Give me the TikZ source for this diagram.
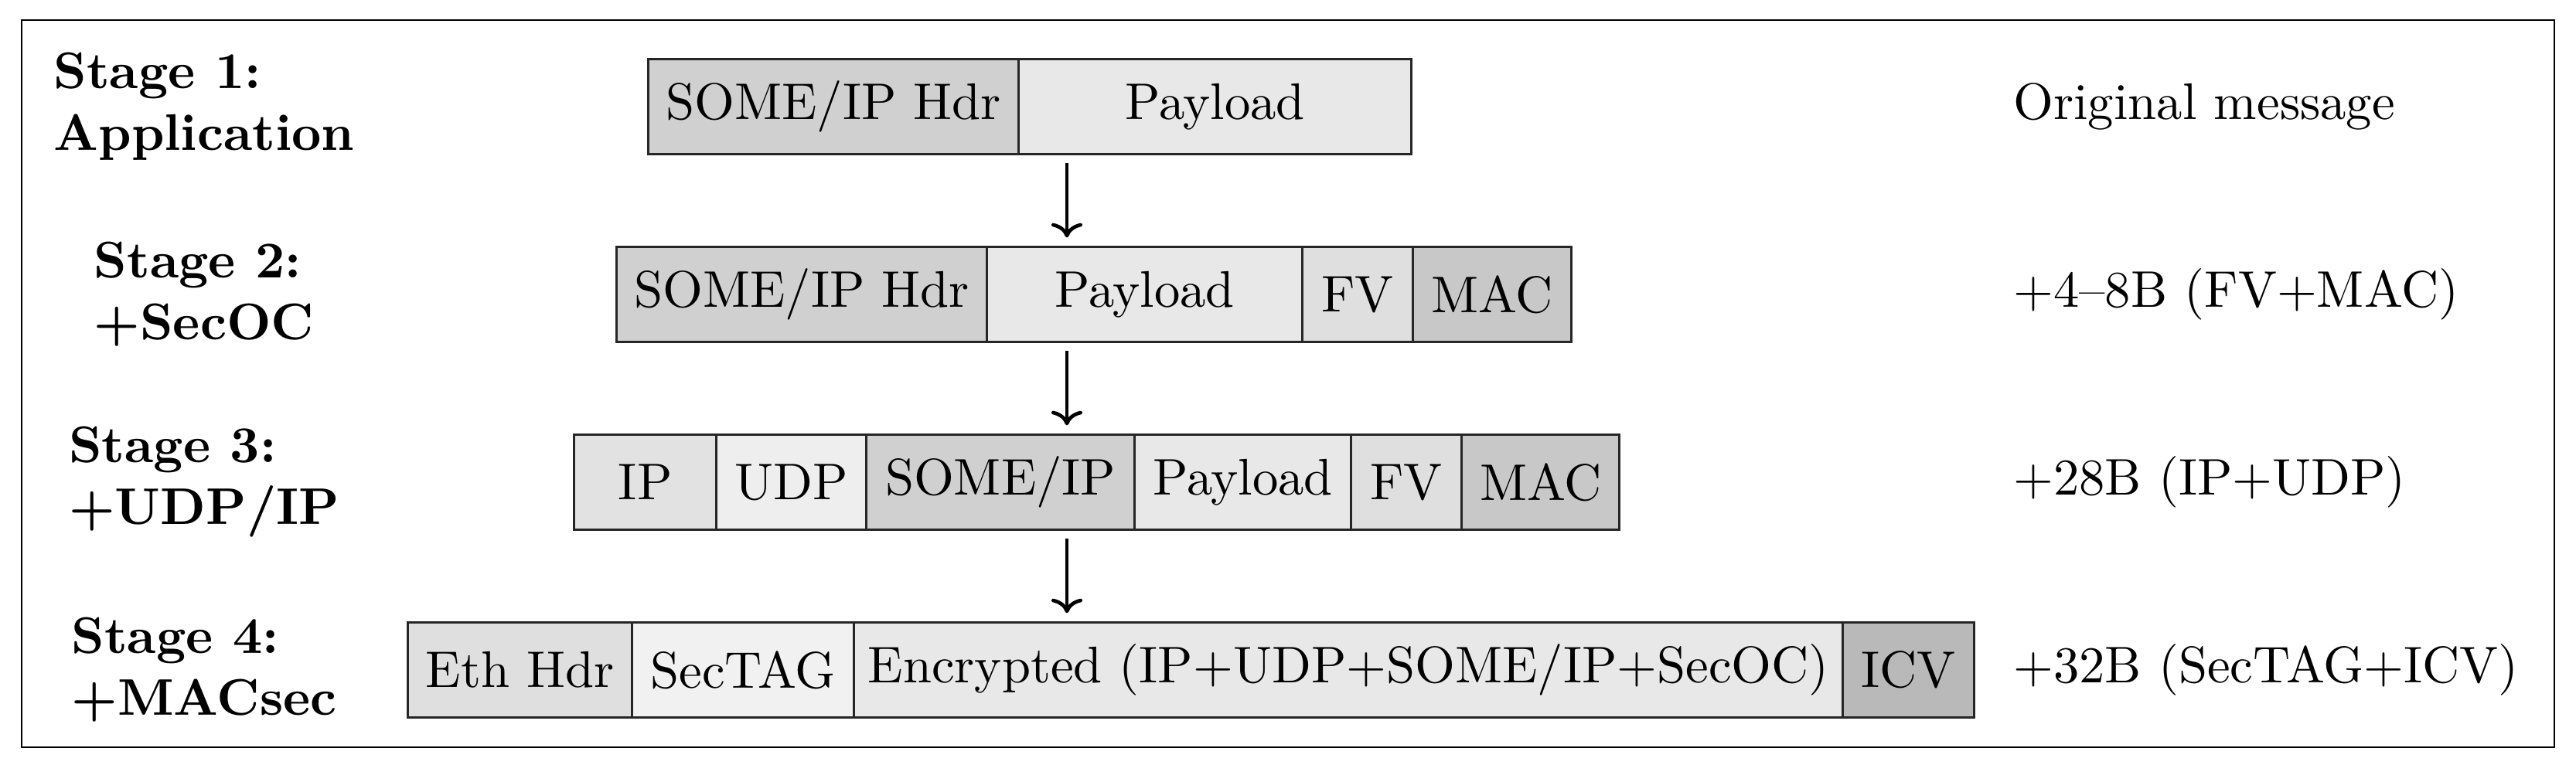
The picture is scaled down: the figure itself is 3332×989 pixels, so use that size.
\documentclass[tikz,border=0pt]{standalone}
\usetikzlibrary{calc,arrows.meta}
\definecolor{cHdr}{gray}{0.815}
\definecolor{cPay}{gray}{0.91}
\definecolor{cFV}{gray}{0.875}
\definecolor{cMAC}{gray}{0.785}
\definecolor{cIP}{gray}{0.885}
\definecolor{cUDP}{gray}{0.935}
\definecolor{cEth}{gray}{0.875}
\definecolor{cTag}{gray}{0.945}
\definecolor{cICV}{gray}{0.725}
\begin{document}
\begin{tikzpicture}[x=0.15pt,y=-0.15pt,
  cell/.style={draw=black!85, line width=0.5pt, inner sep=0pt, minimum height=18.4pt, anchor=west},
  stagelbl/.style={font=\bfseries, align=left, anchor=center, inner sep=0pt},
  note/.style={anchor=west, inner sep=0pt},
  arr/.style={-{To[length=2.8pt,width=6pt]}, line width=0.7pt, shorten <=1.5pt, shorten >=1.6pt}]
\useasboundingbox (0,0) rectangle (3332,989);
\draw[line width=0.4pt] (28,26) rectangle (3304,967);

% stage labels
\node[stagelbl] (s1) at (264,138) {Stage 1:\\Application};
\node[stagelbl] (s2) at (264,381) {Stage 2:\\+SecOC};
\node[stagelbl] (s3) at (264,624) {Stage 3:\\+UDP/IP};
\node[stagelbl] (s4) at (264,867) {Stage 4:\\+MACsec};

% row 1
\node[cell, fill=cHdr, minimum width=71.85pt] (r1a) at (837,138) {SOME/IP Hdr};
\node[cell, fill=cPay, minimum width=76.2pt] (r1b) at (1316,138) {Payload};

% row 2
\node[cell, fill=cHdr, minimum width=71.85pt] (r2a) at (796,381) {SOME/IP Hdr};
\node[cell, fill=cPay, minimum width=61.2pt] (r2b) at (1275,381) {Payload};
\node[cell, fill=cFV, minimum width=21.45pt] (r2c) at (1683,381) {FV};
\node[cell, fill=cMAC, minimum width=30.75pt] (r2d) at (1826,381) {MAC};

% row 3
\node[cell, fill=cIP, minimum width=27.6pt] (r3a) at (741,624) {IP};
\node[cell, fill=cUDP, minimum width=29.1pt] (r3b) at (925,624) {UDP};
\node[cell, fill=cHdr, minimum width=52.05pt] (r3c) at (1119,624) {SOME/IP};
\node[cell, fill=cPay, minimum width=42pt] (r3d) at (1466,624) {Payload};
\node[cell, fill=cFV, minimum width=21.45pt] (r3e) at (1746,624) {FV};
\node[cell, fill=cMAC, minimum width=30.6pt] (r3f) at (1889,624) {MAC};

% row 4
\node[cell, fill=cEth, minimum width=43.5pt] (r4a) at (526,867) {Eth Hdr};
\node[cell, fill=cTag, minimum width=43.05pt] (r4b) at (816,867) {SecTAG};
\node[cell, fill=cPay, minimum width=191.85pt] (r4c) at (1103,867) {Encrypted (IP+UDP+SOME/IP+SecOC)};
\node[cell, fill=cICV, minimum width=25.5pt] (r4d) at (2382,867) {ICV};

% notes
\node[note] (n1) at (2603,138) {Original message};
\node[note] (n2) at (2603,381) {+4--8B (FV+MAC)};
\node[note] (n3) at (2603,624) {+28B (IP+UDP)};
\node[note] (n4) at (2603,867) {+32B (SecTAG+ICV)};

% arrows
\coordinate (ax) at (1380,0);
\draw[arr] (r1b.south -| ax) -- (r2b.north -| ax);
\draw[arr] (r2b.south -| ax) -- (r3c.north -| ax);
\draw[arr] (r3c.south -| ax) -- (r4c.north -| ax);
\end{tikzpicture}
\end{document}
